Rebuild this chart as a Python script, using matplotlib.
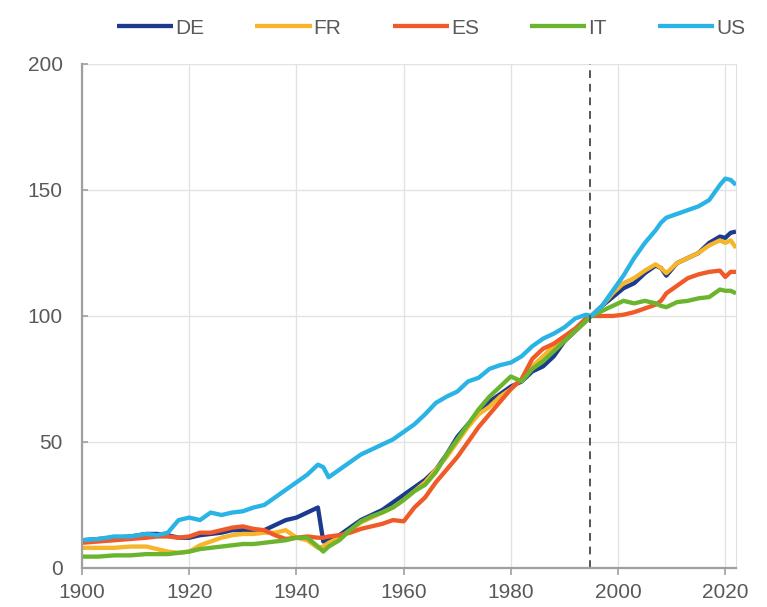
import matplotlib
matplotlib.use('Agg')
import matplotlib.pyplot as plt

plt.rcParams['font.family'] = ['Liberation Sans', 'DejaVu Sans']

# Index, 1995 = 100
years = [1900, 1903, 1906, 1909, 1912, 1914, 1916, 1918, 1920, 1922, 1924, 1926, 1928,
         1930, 1932, 1934, 1936, 1938, 1940, 1942, 1944, 1945, 1946, 1948, 1950, 1952,
         1954, 1956, 1958, 1960, 1962, 1964, 1966, 1968, 1970, 1972, 1974, 1976, 1978,
         1980, 1982, 1984, 1986, 1988, 1990, 1992, 1994, 1995, 1997, 1999, 2001, 2003,
         2005, 2007, 2008, 2009, 2011, 2013, 2015, 2017, 2019, 2020, 2021, 2022]

de = [11, 11.5, 12, 12.5, 13.5, 13.5, 13, 12, 12, 13, 13.5, 14, 15,
      15, 14, 15, 17, 19, 20, 22, 24, 10.5, 11, 13, 16, 19,
      21, 23, 26, 29, 32, 35, 39, 45, 52, 57, 62, 66, 69,
      72, 74, 78, 80, 84, 90, 94, 98, 100, 104, 107.5, 111, 113,
      117, 120, 119, 116, 121, 123, 125, 129, 131.5, 131, 133, 133.5]

fr = [8, 8, 8, 8.5, 8.5, 7.5, 6.5, 6, 6.5, 9, 10.5, 12, 13,
      13.5, 13.5, 14, 14, 15, 12, 11, 8, 8.5, 10, 12, 15, 18,
      20, 22, 24, 27, 30.5, 34, 39, 44, 50, 56, 61, 64, 68,
      71, 75, 80, 84, 88, 91, 94, 98, 100, 104, 109, 113, 115,
      118, 120.5, 119, 117, 121, 123, 125, 128, 130, 129, 130, 127]

es = [10, 10.5, 11, 11.5, 12, 12.5, 12.5, 12, 12.5, 14, 14, 15, 16,
      16.5, 15.5, 15, 13, 11.5, 12, 12.5, 12, 12, 12.5, 13, 14, 15.5,
      16.5, 17.5, 19, 18.5, 24, 28, 34, 39, 44, 50, 56, 61, 66,
      71, 75, 83, 87, 89, 92, 95, 99, 100, 100, 100, 100.5, 101.5,
      103, 104.5, 106, 109, 112, 115, 116.5, 117.5, 118, 115.5, 117.5, 117.5]

it = [4.5, 4.5, 5, 5, 5.5, 5.5, 5.5, 6, 6.5, 7.5, 8, 8.5, 9,
      9.5, 9.5, 10, 10.5, 11, 12, 12, 8.5, 6.5, 8.5, 11, 15, 18.5,
      20.5, 22, 24, 27, 30.5, 33, 38, 45, 51, 57, 63, 68, 72,
      76, 74, 79, 82, 86, 90, 94, 98, 100, 102, 104, 106, 105,
      106, 105, 104, 103.5, 105.5, 106, 107, 107.5, 110.5, 110, 110, 109]

us = [11, 11.5, 12.5, 12.5, 13.5, 13, 14, 19, 20, 19, 22, 21, 22,
      22.5, 24, 25, 28, 31, 34, 37, 41, 40, 36, 39, 42, 45,
      47, 49, 51, 54, 57, 61, 65.5, 68, 70, 74, 75.5, 79, 80.5,
      81.5, 84, 88, 91, 93, 95.5, 99, 100.5, 100, 104, 110, 116, 123,
      129, 134, 137, 139, 140.5, 142, 143.5, 146, 152, 154.5, 154, 152]

series = [('DE', de, '#1c3a8e'), ('FR', fr, '#f6b52a'), ('ES', es, '#f05a28'),
          ('IT', it, '#6ab42e'), ('US', us, '#2ab4e6')]
base_year = 1995

fig = plt.figure(figsize=(7.67, 6.07), dpi=100)
ax = fig.add_axes([0.107, 0.0643, 0.8526, 0.8303])

for name, vals, col in series:
    ax.plot(years, vals, color=col, lw=3.1, label=name, solid_capstyle='butt')

ax.axvline(base_year - 0.3, color='#555555', lw=1.4, ls=(0, (4, 3)))

ax.set_xlim(1900, 2022)
ax.set_ylim(0, 200)
ax.set_xticks(range(1900, 2021, 20))
ax.set_yticks(range(0, 201, 50))
ax.grid(True, color='#e3e3e3', lw=1)
ax.set_axisbelow(True)

for s in ['left', 'bottom']:
    ax.spines[s].set_color('#a0a0a0')
    ax.spines[s].set_linewidth(1.6)
ax.spines['top'].set_visible(False)
ax.spines['right'].set_color('#e0e0e0')

ax.tick_params(axis='x', direction='out', length=5, color='#a0a0a0', width=1.2,
               labelsize=15, labelcolor='#595959', pad=6)
ax.tick_params(axis='y', direction='in', length=4, color='#a0a0a0', width=1.2,
               labelsize=15, labelcolor='#595959', pad=14)

fig.legend(loc='upper center', bbox_to_anchor=(0.562, 1.0), ncol=5, frameon=False,
           fontsize=15, handlelength=2.7, handletextpad=0.1, columnspacing=2.45,
           labelcolor='#595959')

fig.savefig('out.png', dpi=100)
